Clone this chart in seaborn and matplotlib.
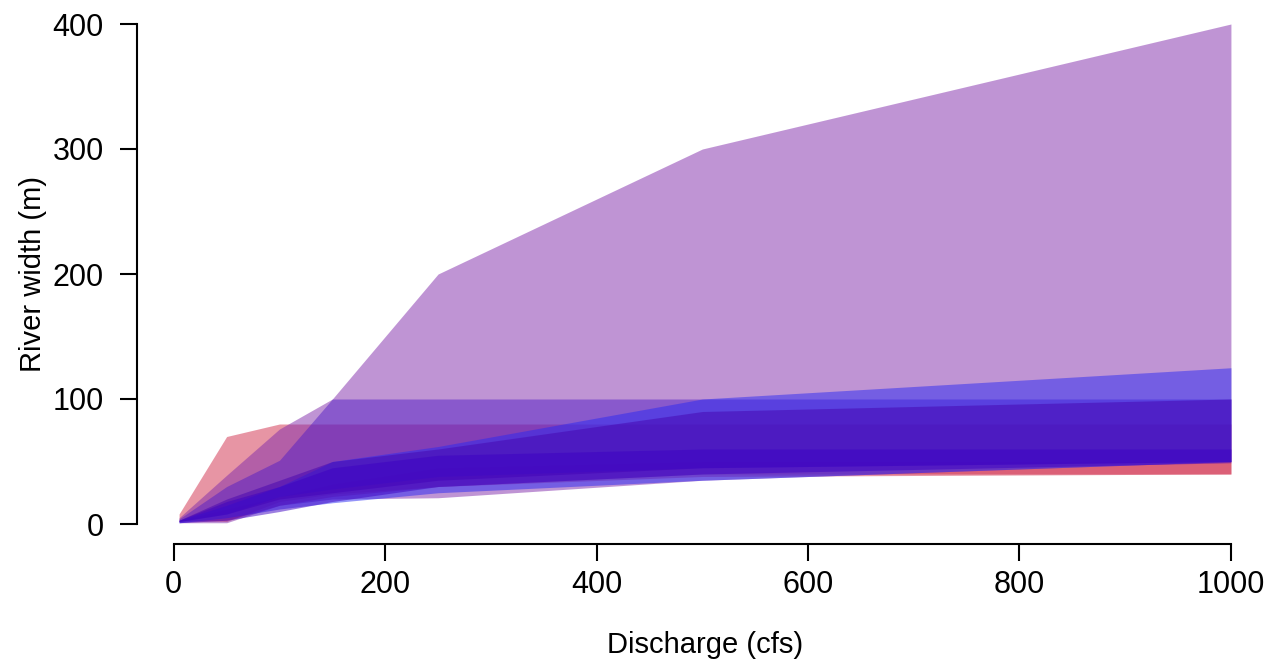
import numpy as np
import matplotlib
matplotlib.use("Agg")
import matplotlib.pyplot as plt
import seaborn as sns

# Discharge values (cfs) at which river width ranges were estimated
discharge = [5, 50, 100, 150, 250, 500, 1000]

# Width envelopes (m): lower / upper bounds for each reach
red_a_lo = [3, 2, 18, 24, 30, 38, 40]
red_a_hi = [8, 70, 80, 80, 80, 80, 80]
red_b_lo = [2, 3, 15, 22, 30, 40, 40]
red_b_hi = [3, 12, 22, 32, 45, 50, 50]

purple_a_lo = [1, 1, 15, 20, 21, 35, 50]
purple_a_hi = [5, 39, 76, 100, 200, 300, 400]
purple_b_lo = [2, 8, 22, 28, 38, 45, 50]
purple_b_hi = [4, 30, 51, 100, 100, 100, 100]

blue_a_lo = [1, 5, 12, 17, 25, 35, 50]
blue_a_hi = [3, 15, 30, 50, 62, 100, 125]
blue_b_lo = [2, 8, 20, 25, 35, 45, 50]
blue_b_hi = [3, 20, 35, 50, 60, 90, 100]
blue_c_lo = [1, 3, 10, 18, 30, 40, 49]
blue_c_hi = [3, 18, 30, 45, 55, 60, 60]

x_ticks = [0, 200, 400, 600, 800, 1000]
y_ticks = [0, 100, 200, 300, 400]

sns.set_theme(style="ticks")
plt.rcParams["font.family"] = ["Liberation Sans", "DejaVu Sans"]

fig = plt.figure(figsize=(12.75, 6.67), dpi=100)
ax = fig.add_axes([137 / 1275, 1 - 544 / 667, (1273 - 137) / 1275, (544 - 4) / 667])

bands = [
    (red_a_lo, red_a_hi, "#D12D4B"),
    (red_b_lo, red_b_hi, "#D12D4B"),
    (purple_a_lo, purple_a_hi, "#812BAB"),
    (purple_b_lo, purple_b_hi, "#541FC5"),
    (blue_a_lo, blue_a_hi, "#2A29F3"),
    (blue_b_lo, blue_b_hi, "#4604B0"),
    (blue_c_lo, blue_c_hi, "#3D01C3"),
]
for lo, hi, col in bands:
    ax.fill_between(discharge, lo, hi, color=col, alpha=0.5, linewidth=0)

ax.set_xlim(-34.8, 1039.8)
ax.set_ylim(-16, 416)
ax.set_xticks(x_ticks)
ax.set_yticks(y_ticks)
ax.tick_params(axis="both", labelsize=22, length=12, width=1.5, color="black",
               labelcolor="black", direction="out")
ax.tick_params(axis="x", pad=7)
ax.tick_params(axis="y", pad=12)
ax.set_xlabel("Discharge (cfs)", fontsize=21, labelpad=22, color="black")
ax.set_ylabel("River width (m)", fontsize=21, labelpad=4, color="black")

sns.despine(ax=ax, trim=True)
for side in ("left", "bottom"):
    ax.spines[side].set_linewidth(1.5)
    ax.spines[side].set_color("black")

fig.savefig("out.png", dpi=100)
